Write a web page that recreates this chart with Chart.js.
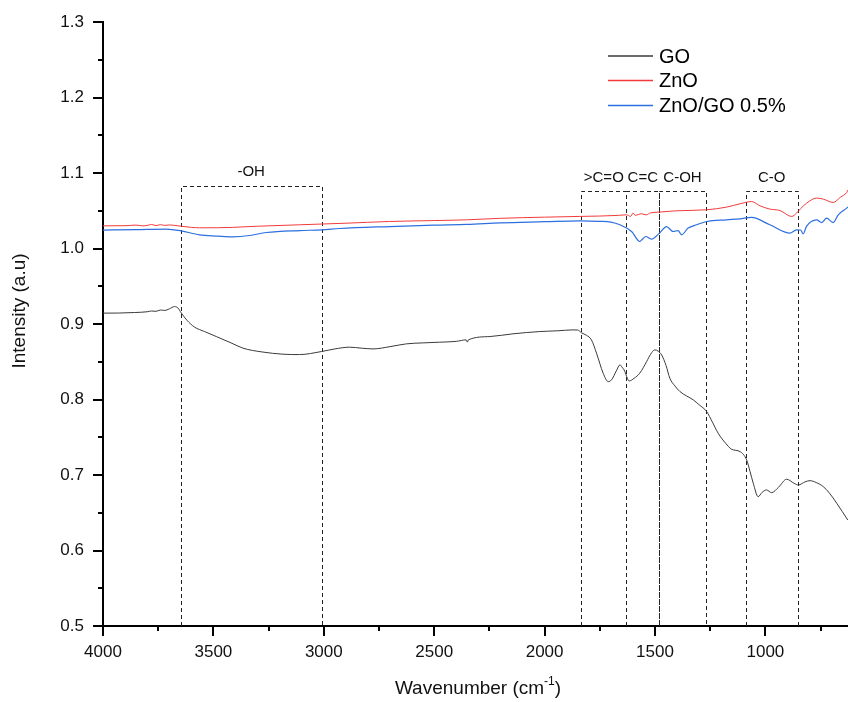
<!DOCTYPE html>
<html>
<head>
<meta charset="utf-8">
<script src="https://cdn.jsdelivr.net/npm/chart.js@4"></script>
<style>
  html, body { margin: 0; padding: 0; background: #fff; }
  #wrap { width: 848px; height: 702px; }
</style>
</head>
<body>
<div id="wrap"><canvas id="ftir"></canvas></div>
<script>
// GO spectrum (wavenumber cm-1, intensity)
var goWn  = [4000, 3930, 3857, 3800, 3780, 3760, 3740, 3720, 3700, 3676, 3660, 3646, 3620, 3585, 3540, 3487, 3420, 3366, 3280, 3185, 3110, 3011, 2950, 2883, 2830, 2777, 2700, 2626, 2550, 2475, 2400, 2355, 2350, 2345, 2248, 2143, 2022, 1940, 1871, 1850, 1833, 1810, 1788, 1765, 1735, 1712, 1697, 1675, 1659, 1650, 1640, 1617, 1595, 1569, 1538, 1520, 1501, 1485, 1470, 1450, 1433, 1410, 1387, 1327, 1300, 1266, 1240, 1214, 1180, 1153, 1115, 1085, 1070, 1055, 1033, 1015, 995, 972, 940, 904, 870, 851, 820, 798, 770, 738, 710, 677, 627];
var goVal = [0.9144, 0.9145, 0.9152, 0.9162, 0.9172, 0.9168, 0.9185, 0.9180, 0.9200, 0.9231, 0.9210, 0.9148, 0.9050, 0.8958, 0.8900, 0.8834, 0.8750, 0.8680, 0.8630, 0.8600, 0.8595, 0.8635, 0.8670, 0.8693, 0.8680, 0.8670, 0.8700, 0.8737, 0.8750, 0.8759, 0.8770, 0.8790, 0.8760, 0.8790, 0.8834, 0.8870, 0.8900, 0.8910, 0.8922, 0.8920, 0.8883, 0.8850, 0.8790, 0.8614, 0.8349, 0.8237, 0.8260, 0.8380, 0.8459, 0.8430, 0.8392, 0.8246, 0.8280, 0.8349, 0.8502, 0.8600, 0.8657, 0.8640, 0.8590, 0.8450, 0.8282, 0.8180, 0.8105, 0.7995, 0.7930, 0.7840, 0.7700, 0.7553, 0.7420, 0.7341, 0.7310, 0.7200, 0.7050, 0.6890, 0.6713, 0.6770, 0.6802, 0.6766, 0.6840, 0.6944, 0.6890, 0.6868, 0.6910, 0.6925, 0.6900, 0.6846, 0.6760, 0.6626, 0.6404];

// ZnO spectrum
var znoWn  = [4000, 3900, 3850, 3820, 3800, 3780, 3760, 3740, 3720, 3700, 3680, 3646, 3600, 3563, 3480, 3413, 3300, 3110, 2900, 2702, 2500, 2350, 2200, 2000, 1841, 1750, 1700, 1660, 1629, 1610, 1600, 1590, 1560, 1540, 1520, 1480, 1400, 1266, 1176, 1115, 1063, 1025, 980, 934, 881, 859, 840, 813, 768, 738, 693, 660, 632, 626];
var znoVal = [1.0300, 1.0302, 1.0310, 1.0300, 1.0306, 1.0318, 1.0304, 1.0316, 1.0306, 1.0312, 1.0308, 1.0295, 1.0280, 1.0274, 1.0275, 1.0280, 1.0295, 1.0314, 1.0335, 1.0358, 1.0370, 1.0380, 1.0400, 1.0415, 1.0425, 1.0430, 1.0435, 1.0440, 1.0446, 1.0425, 1.0470, 1.0440, 1.0460, 1.0445, 1.0472, 1.0482, 1.0500, 1.0513, 1.0548, 1.0592, 1.0622, 1.0566, 1.0522, 1.0503, 1.0424, 1.0469, 1.0530, 1.0601, 1.0668, 1.0654, 1.0610, 1.0680, 1.0742, 1.0777];

// ZnO/GO 0.5% spectrum
var compWn  = [4000, 3850, 3714, 3646, 3563, 3480, 3413, 3336, 3260, 3110, 3008, 2928, 2702, 2500, 2350, 2200, 2000, 1841, 1750, 1700, 1659, 1606, 1569, 1555, 1542, 1516, 1480, 1448, 1418, 1395, 1380, 1350, 1312, 1266, 1176, 1115, 1063, 980, 889, 859, 840, 829, 814, 768, 745, 723, 693, 670, 632, 626];
var compVal = [1.0244, 1.0250, 1.0257, 1.0234, 1.0181, 1.0165, 1.0155, 1.0172, 1.0212, 1.0238, 1.0247, 1.0265, 1.0291, 1.0310, 1.0320, 1.0340, 1.0355, 1.0367, 1.0360, 1.0350, 1.0314, 1.0225, 1.0093, 1.0130, 1.0159, 1.0124, 1.0204, 1.0291, 1.0225, 1.0238, 1.0181, 1.0270, 1.0314, 1.0358, 1.0380, 1.0393, 1.0411, 1.0314, 1.0204, 1.0248, 1.0245, 1.0194, 1.0293, 1.0380, 1.0344, 1.0402, 1.0344, 1.0446, 1.0535, 1.0550];

// marked absorption bands
var bandLabels = ['-OH', '>C=O', 'C=C', 'C-OH', 'C-O'];
var bandFrom   = [3649, 1833, 1631, 1480, 1090];
var bandTo     = [3009, 1631, 1480, 1271, 853];
var bandTop    = [1.083, 1.0755, 1.0755, 1.0755, 1.0755];

var seriesNames = ['GO', 'ZnO', 'ZnO/GO 0.5%'];
var seriesColors = ['#3a3a3a', '#f23a3a', '#2c6fe0'];

var FONT = "'Liberation Sans', Arial, sans-serif";

function pts(xs, ys) {
    var out = [];
    for (var i = 0; i < xs.length; i++) out.push({x: xs[i], y: ys[i]});
    return out;
}

function isMajorY(v) { return Math.round(v * 100) % 10 === 0; }
function isMajorX(v) { return Math.round(v) % 500 === 0; }

var decorPlugin = {
    id: 'decor',
    beforeDatasetsDraw: function(chart) {
        var ctx = chart.ctx, xs = chart.scales.x, ys = chart.scales.y;
        var bottom = chart.chartArea.bottom;
        ctx.save();
        ctx.strokeStyle = '#222';
        ctx.lineWidth = 1;
        ctx.setLineDash([4, 3]);
        for (var i = 0; i < bandLabels.length; i++) {
            var x1 = Math.round(xs.getPixelForValue(bandFrom[i])) + 0.5;
            var x2 = Math.round(xs.getPixelForValue(bandTo[i])) + 0.5;
            var yt = Math.round(ys.getPixelForValue(bandTop[i])) + 0.5;
            ctx.beginPath();
            ctx.moveTo(x1, bottom);
            ctx.lineTo(x1, yt);
            ctx.lineTo(x2, yt);
            ctx.lineTo(x2, bottom);
            ctx.stroke();
        }
        ctx.setLineDash([]);
        ctx.fillStyle = '#111';
        ctx.font = '15px ' + FONT;
        ctx.textAlign = 'center';
        ctx.textBaseline = 'middle';
        for (var j = 0; j < bandLabels.length; j++) {
            var cx = xs.getPixelForValue((bandFrom[j] + bandTo[j]) / 2);
            var ly = ys.getPixelForValue(bandTop[j]) - 14;
            ctx.fillText(bandLabels[j], cx, ly);
        }
        ctx.restore();
    },
    afterDraw: function(chart) {
        var ctx = chart.ctx, xs = chart.scales.x, ys = chart.scales.y;
        var area = chart.chartArea;
        ctx.save();
        // minor ticks
        ctx.strokeStyle = '#000';
        ctx.lineWidth = 2;
        xs.ticks.forEach(function(t) {
            if (isMajorX(t.value)) return;
            var px = Math.round(xs.getPixelForValue(t.value));
            ctx.beginPath();
            ctx.moveTo(px, area.bottom);
            ctx.lineTo(px, area.bottom + 5);
            ctx.stroke();
        });
        ys.ticks.forEach(function(t) {
            if (isMajorY(t.value)) return;
            var py = Math.round(ys.getPixelForValue(t.value));
            ctx.beginPath();
            ctx.moveTo(area.left, py);
            ctx.lineTo(area.left - 5, py);
            ctx.stroke();
        });

        // axis titles
        ctx.fillStyle = '#111';
        ctx.textBaseline = 'middle';
        var main = 'Wavenumber (cm';
        ctx.font = '19px ' + FONT;
        var w1 = ctx.measureText(main).width;
        ctx.font = '12px ' + FONT;
        var w2 = ctx.measureText('-1').width;
        ctx.font = '19px ' + FONT;
        var w3 = ctx.measureText(')').width;
        var sx = 478 - (w1 + w2 + w3) / 2, ty = 689;
        ctx.textAlign = 'left';
        ctx.fillText(main, sx, ty);
        ctx.font = '12px ' + FONT;
        ctx.fillText('-1', sx + w1, ty - 7);
        ctx.font = '19px ' + FONT;
        ctx.fillText(')', sx + w1 + w2, ty);

        ctx.save();
        ctx.translate(20, 311);
        ctx.rotate(-Math.PI / 2);
        ctx.textAlign = 'center';
        ctx.fillText('Intensity (a.u)', 0, 0);
        ctx.restore();

        // legend
        ctx.font = '20px ' + FONT;
        ctx.textAlign = 'left';
        var rows = [56, 80.5, 105.5];
        for (var k = 0; k < seriesNames.length; k++) {
            ctx.strokeStyle = seriesColors[k];
            ctx.lineWidth = 1.5;
            ctx.beginPath();
            ctx.moveTo(608, rows[k]);
            ctx.lineTo(653, rows[k]);
            ctx.stroke();
            ctx.fillStyle = '#000';
            ctx.fillText(seriesNames[k], 659, rows[k] + 1);
        }
        ctx.restore();
    }
};

var ctxEl = document.getElementById('ftir');
var ftirChart = new Chart(ctxEl, {
    type: 'line',
    data: {
        datasets: [{
            label: seriesNames[0],
            data: pts(goWn, goVal),
            borderColor: seriesColors[0],
            borderWidth: 1,
            pointRadius: 0,
            cubicInterpolationMode: 'monotone'
        }, {
            label: seriesNames[1],
            data: pts(znoWn, znoVal),
            borderColor: seriesColors[1],
            borderWidth: 1,
            pointRadius: 0,
            cubicInterpolationMode: 'monotone'
        }, {
            label: seriesNames[2],
            data: pts(compWn, compVal),
            borderColor: seriesColors[2],
            borderWidth: 1.2,
            pointRadius: 0,
            cubicInterpolationMode: 'monotone'
        }]
    },
    options: {
        responsive: true,
        maintainAspectRatio: false,
        animation: false,
        layout: { padding: { top: 22, right: 0, bottom: 0, left: 0 } },
        plugins: {
            legend: { display: false },
            tooltip: { enabled: false }
        },
        scales: {
            x: {
                type: 'linear',
                reverse: true,
                min: 626,
                max: 4000,
                afterFit: function(scale) { scale.height = 76; },
                border: { display: true, color: '#000', width: 2 },
                grid: {
                    drawOnChartArea: false,
                    tickLength: 10,
                    lineWidth: 2,
                    color: function(c) { return c.tick && isMajorX(c.tick.value) ? '#000' : 'rgba(0,0,0,0)'; }
                },
                ticks: {
                    stepSize: 250,
                    includeBounds: false,
                    autoSkip: false,
                    maxRotation: 0,
                    padding: 6,
                    color: '#111',
                    font: { family: FONT, size: 17 },
                    callback: function(v) { return isMajorX(v) ? String(Math.round(v)) : ''; }
                }
            },
            y: {
                type: 'linear',
                min: 0.5,
                max: 1.3,
                afterFit: function(scale) { scale.width = 103; },
                border: { display: true, color: '#000', width: 2 },
                grid: {
                    drawOnChartArea: false,
                    tickLength: 10,
                    lineWidth: 2,
                    color: function(c) { return c.tick && isMajorY(c.tick.value) ? '#000' : 'rgba(0,0,0,0)'; }
                },
                ticks: {
                    stepSize: 0.05,
                    autoSkip: false,
                    padding: 9,
                    color: '#111',
                    font: { family: FONT, size: 17 },
                    callback: function(v) { return isMajorY(v) ? v.toFixed(1) : ''; }
                }
            }
        }
    },
    plugins: [decorPlugin]
});
</script>
</body>
</html>
